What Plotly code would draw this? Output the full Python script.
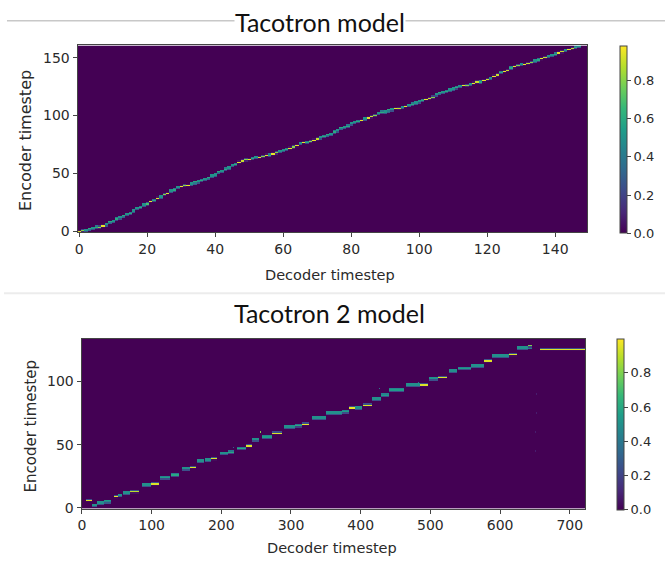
import numpy as np
import plotly.graph_objects as go

# ---------------- data ----------------
# Top panel: Tacotron, 150 decoder steps x 161 encoder steps.
# Encoder index of attention peak for each decoder step (None = no visible peak)
top_enc = [0, 1, 1, 2, 3, 4, 4, 5, 6, 8, 9, 11, 12, 13, 15, 16, 18, 20, 21, 23,
           24, 26, 27, 29, 30, 32, 33, 35, 36, 38, 39, 40, 40, 41, 42, 43, 44, 45,
           46, 48, 49, 51, 52, 54, 55, 57, 58, 60, 61, 62, 62, 63, 64, 64, 65, 66,
           66, 67, 68, 69, 70, 71, 72, 73, 74, 76, 77, 77, 78, 79, 80, 81, 82, 83,
           84, 86, 87, 89, 90, 91, 93, 94, 95, 96, 97, 98, 99, 100, 102, 103, 103,
           104, 105, 106, 106, 107, 108, 109, 110, 111, 112, 113, 114, 115, 116,
           118, 119, 120, 121, 122, 123, 124, 125, 126, 126, 127, 128, 129, 129,
           130, 131, 132, 134, 135, 137, 138, 139, 141, 142, 143, 144, 144, 145,
           146, 147, 148, 149, 150, 151, 152, 153, 154, 155, 156, 157, 158, 159,
           160, None, None]
# Peak attention weight per decoder step
top_w = [0.95, 0.8, 0.5, 0.4, 0.5, 0.6, 0.8, 0.95, 0.5, 0.4,
         0.5, 0.6, 0.5, 0.4, 0.5, 0.6, 0.5, 0.5, 0.6, 0.5,
         0.7, 0.95, 0.6, 0.95, 0.5, 0.8, 0.95, 0.5, 0.6, 0.5,
         0.95, 0.8, 0.95, 0.5, 0.4, 0.5, 0.6, 0.5, 0.4, 0.5,
         0.5, 0.4, 0.5, 0.6, 0.5, 0.5, 0.6, 0.95, 0.9, 0.8,
         0.95, 0.6, 0.5, 0.95, 0.8, 0.95, 0.6, 0.95, 0.8, 0.5,
         0.5, 0.6, 0.95, 0.8, 0.95, 0.5, 0.95, 0.6, 0.8, 0.95,
         0.9, 0.5, 0.6, 0.4, 0.5, 0.6, 0.5, 0.4, 0.5, 0.6,
         0.5, 0.5, 0.6, 0.95, 0.5, 0.95, 0.9, 0.8, 0.5, 0.6,
         0.5, 0.4, 0.5, 0.95, 0.9, 0.5, 0.95, 0.5, 0.6, 0.5,
         0.5, 0.6, 0.95, 0.9, 0.8, 0.5, 0.4, 0.5, 0.6, 0.5,
         0.5, 0.6, 0.5, 0.95, 0.8, 0.5, 0.95, 0.9, 0.6, 0.95,
         0.9, 0.5, 0.95, 0.9, 0.6, 0.95, 0.9, 0.6, 0.95, 0.8,
         0.5, 0.95, 0.9, 0.8, 0.5, 0.6, 0.95, 0.9, 0.5, 0.5,
         0.6, 0.95, 0.9, 0.5, 0.95, 0.9, 0.6, 0.5, 0.0, 0.0]
top_n_dec = 150
top_n_enc = 161

# Bottom panel: Tacotron 2, 723 decoder steps x 134 encoder steps.
# Attention dashes: decoder start, decoder end, encoder index, weight
bot_d_start = [6, 15, 22, 32, 46, 52, 60, 70, 87, 100, 113, 128, 144, 155, 166, 177,
               186, 199, 210, 223, 236, 244, 259, 273, 291, 306, 316, 330, 351, 373,
               384, 392, 404, 416, 430, 441, 466, 485, 498, 512, 527, 540, 559, 577,
               589, 613, 625, 640, 658]
bot_d_end = [15, 22, 32, 42, 52, 58, 70, 82, 99, 111, 127, 140, 155, 164, 176, 186,
             195, 210, 219, 236, 244, 254, 273, 288, 306, 316, 326, 350, 373, 384,
             392, 403, 416, 430, 441, 463, 485, 497, 512, 524, 538, 559, 577, 589,
             613, 625, 640, 646, 723]
bot_enc = [6, 2, 4, 5, 9, 10, 12, 13, 18, 19, 24, 26, 31, 32, 37, 38,
           39, 43, 44, 47, 49, 54, 56, 59, 64, 65, 66, 71, 75, 76,
           79, 79, 81, 86, 89, 93, 97, 97, 102, 103, 108, 110, 112, 116,
           120, 121, 126, 127, 125]
bot_w = [0.95, 0.5, 0.5, 0.45, 0.97, 0.5, 0.5, 0.9, 0.5, 0.95, 0.55, 0.6, 0.5, 0.95,
         0.5, 0.5, 0.95, 0.5, 0.6, 0.6, 0.95, 0.5, 0.55, 0.95, 0.5, 0.6, 0.97, 0.5,
         0.5, 0.55, 0.97, 0.5, 0.95, 0.5, 0.55, 0.55, 0.5, 0.95, 0.5, 0.95, 0.5,
         0.55, 0.5, 0.95, 0.5, 0.95, 0.5, 0.2, 0.95]
# Isolated off-path blips: decoder step, encoder index, weight
blip_dec = [218, 256, 427, 483, 538, 650, 650, 651, 651, 652, 652, 653, 653]
blip_enc = [48, 60, 94, 99, 113, 15, 30, 45, 60, 75, 90, 105, 118]
blip_w = [0.3, 0.8, 0.4, 0.4, 0.35, 0.08, 0.08, 0.08, 0.08, 0.08, 0.08, 0.08, 0.08]
bot_n_dec = 723
bot_n_enc = 134

# Tick labels
top_xticks = [0, 20, 40, 60, 80, 100, 120, 140]
top_yticks = [0, 50, 100, 150]
bot_xticks = [0, 100, 200, 300, 400, 500, 600, 700]
bot_yticks = [0, 50, 100]
cbar_ticks = [0.0, 0.2, 0.4, 0.6, 0.8]

# ---------------- build the alignment matrices ----------------
z1 = np.zeros((top_n_enc, top_n_dec))
for d, (e, w) in enumerate(zip(top_enc, top_w)):
    if e is None or w <= 0:
        continue
    z1[e, d] = max(z1[e, d], w)
    if e + 1 < top_n_enc:
        z1[e + 1, d] = max(z1[e + 1, d], 1 - w)
    if e - 1 >= 0:
        z1[e - 1, d] = max(z1[e - 1, d], 0.5 * (1 - w))

z2 = np.zeros((bot_n_enc, bot_n_dec))
for d0, d1, e, w in zip(bot_d_start, bot_d_end, bot_enc, bot_w):
    z2[e, d0:d1] = np.maximum(z2[e, d0:d1], w)
    if e + 1 < bot_n_enc:
        z2[e + 1, d0:d1] = np.maximum(z2[e + 1, d0:d1], max(1 - w, 0.25))
    if e - 1 >= 0:
        z2[e - 1, d0:d1] = np.maximum(z2[e - 1, d0:d1], 0.5 * (1 - w))
for d, e, w in zip(blip_dec, blip_enc, blip_w):
    z2[e, d] = max(z2[e, d], w)

# ---------------- figure ----------------
W, H = 665, 565


def px(x):
    return x / W


def py(y):
    return 1 - y / H


FONT = "DejaVu Sans"
TXT = "#2a2a2a"
LINE = "#444444"

fig = go.Figure()
fig.add_trace(go.Heatmap(z=z1, x=np.arange(top_n_dec), y=np.arange(top_n_enc),
                         coloraxis="coloraxis", xaxis="x", yaxis="y",
                         zsmooth=False, hoverinfo="skip"))
fig.add_trace(go.Heatmap(z=z2, x=np.arange(bot_n_dec), y=np.arange(bot_n_enc),
                         coloraxis="coloraxis2", xaxis="x2", yaxis="y2",
                         zsmooth=False, hoverinfo="skip"))

axis_common = dict(showgrid=False, zeroline=False, showline=True, mirror=True,
                   linecolor=LINE, linewidth=1, ticks="outside", ticklen=4,
                   tickcolor=LINE, tickfont=dict(family=FONT, size=14, color=TXT))


def cbar(ymid, length, x):
    return dict(x=px(x), xanchor="left", y=py(ymid), yanchor="middle",
                len=length, lenmode="pixels", thickness=7, thicknessmode="pixels",
                outlinewidth=1, outlinecolor=LINE, xpad=0, ypad=0,
                tickvals=cbar_ticks, ticktext=[f"{t:.1f}" for t in cbar_ticks],
                ticks="outside", ticklen=4, tickcolor=LINE,
                tickfont=dict(family=FONT, size=13, color=TXT))


fig.update_layout(
    width=W, height=H, margin=dict(l=0, r=0, t=0, b=0),
    paper_bgcolor="white", plot_bgcolor="white", showlegend=False,
    xaxis=dict(domain=[px(74), px(587)], range=[-0.5, top_n_dec - 0.5],
               tickvals=top_xticks, anchor="y", **axis_common),
    yaxis=dict(domain=[py(235), py(46)], range=[-0.5, top_n_enc - 0.5],
               tickvals=top_yticks, anchor="x", **axis_common),
    xaxis2=dict(domain=[px(78), px(585)], range=[-0.5, bot_n_dec - 0.5],
                tickvals=bot_xticks, anchor="y2", **axis_common),
    yaxis2=dict(domain=[py(515), py(343)], range=[-0.5, bot_n_enc - 0.5],
                tickvals=bot_yticks, anchor="x2", **axis_common),
    coloraxis=dict(colorscale="Viridis", cmin=0, cmax=0.98,
                   colorbar=cbar(141.5, 187, 619.5)),
    coloraxis2=dict(colorscale="Viridis", cmin=0, cmax=1.0,
                    colorbar=cbar(429.5, 171, 616.5)),
)

fig.add_shape(type="line", xref="paper", yref="paper", x0=px(3), x1=1,
              y0=py(21), y1=py(21), line=dict(color="#c8c8c8", width=1.5), layer="below")
fig.add_shape(type="line", xref="paper", yref="paper", x0=0, x1=1,
              y0=py(297), y1=py(297), line=dict(color="#ececec", width=2), layer="below")

TITLE_FONT = dict(family="Lato", size=25, color="#111111")
LABEL_FONT = dict(family=FONT, size=14.5, color=TXT)

annots = [
    dict(text="Tacotron model", x=px(318), y=py(22), font=TITLE_FONT, bgcolor="white",
         borderpad=0),
    dict(text="Tacotron 2 model", x=px(327), y=py(317), font=TITLE_FONT),
    dict(text="Decoder timestep", x=px(328), y=py(278), font=LABEL_FONT),
    dict(text="Encoder timestep", x=px(21), y=py(142), font=dict(family=FONT, size=16, color=TXT),
         textangle=-90),
    dict(text="Decoder timestep", x=px(330), y=py(555), font=LABEL_FONT),
    dict(text="Encoder timestep", x=px(27), y=py(432), font=dict(family=FONT, size=15, color=TXT),
         textangle=-90),
]
for a in annots:
    fig.add_annotation(xref="paper", yref="paper", showarrow=False,
                       xanchor="center", yanchor="middle", **a)

fig.write_html("out.html", config={"displayModeBar": False},
               post_script="document.body.style.margin='0';document.body.style.overflow='hidden';")
